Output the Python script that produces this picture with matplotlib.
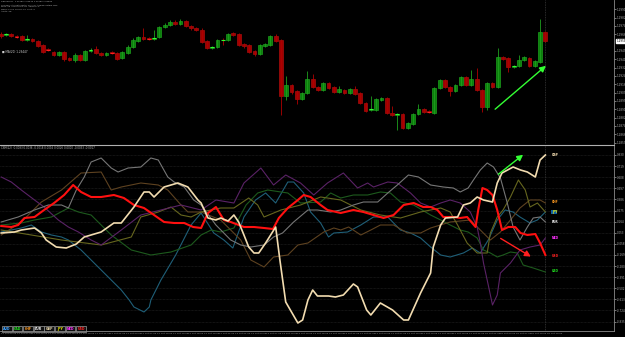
import matplotlib
matplotlib.use('Agg')
import matplotlib.pyplot as plt
from matplotlib.patches import Rectangle
import numpy as np

# ---------------- price candles (H1 bars) ----------------
opens = [1.2966,1.2965,1.2966,1.2964,1.2964,1.2960,1.2961,1.2959,1.2955,1.2951,
         1.2948,1.2945,1.2948,1.2942,1.2940,1.2945,1.2940,1.2949,1.2951,1.2947,
         1.2945,1.2948,1.2947,1.2942,1.2947,1.2953,1.2959,1.2963,1.2962,1.2961,
         1.2963,1.2973,1.2975,1.2978,1.2976,1.2979,1.2974,1.2972,1.2970,1.2959,
         1.2952,1.2953,1.2960,1.2960,1.2967,1.2966,1.2956,1.2955,1.2949,1.2946,
         1.2954,1.2955,1.2964,1.2960,1.2904,1.2915,1.2909,1.2901,1.2907,1.2921,
         1.2913,1.2910,1.2917,1.2913,1.2908,1.2910,1.2907,1.2911,1.2907,1.2897,
         1.2890,1.2890,1.2900,1.2902,1.2887,1.2885,1.2886,1.2872,1.2876,1.2886,
         1.2891,1.2889,1.2887,1.2912,1.2920,1.2913,1.2909,1.2915,1.2923,1.2915,
         1.2921,1.2910,1.2893,1.2917,1.2913,1.2943,1.2942,1.2933,1.2934,1.2940,
         1.2942,1.2934,1.2938,1.2968]
closes = [1.2964,1.2966,1.2964,1.2963,1.2960,1.2961,1.2959,1.2954,1.2948,1.2950,
          1.2945,1.2948,1.2941,1.2940,1.2945,1.2940,1.2949,1.2950,1.2947,1.2945,
          1.2947,1.2947,1.2941,1.2948,1.2953,1.2960,1.2963,1.2961,1.2961,1.2962,
          1.2973,1.2975,1.2978,1.2976,1.2979,1.2974,1.2972,1.2970,1.2958,1.2952,
          1.2953,1.2960,1.2960,1.2966,1.2965,1.2955,1.2954,1.2948,1.2946,1.2955,
          1.2956,1.2964,1.2959,1.2904,1.2915,1.2908,1.2901,1.2907,1.2921,1.2913,
          1.2910,1.2917,1.2912,1.2908,1.2911,1.2907,1.2911,1.2906,1.2897,1.2889,
          1.2891,1.2901,1.2902,1.2887,1.2885,1.2886,1.2872,1.2877,1.2886,1.2891,
          1.2888,1.2888,1.2912,1.2920,1.2913,1.2909,1.2915,1.2923,1.2915,1.2921,
          1.2910,1.2893,1.2917,1.2913,1.2943,1.2941,1.2933,1.2934,1.2940,1.2943,
          1.2934,1.2939,1.2968,1.2959]
highs = [1.2968,1.2967,1.2967,1.2965,1.2965,1.2965,1.2962,1.2960,1.2956,1.2952,
         1.2949,1.2949,1.2949,1.2943,1.2947,1.2946,1.2950,1.2952,1.2954,1.2948,
         1.2948,1.2949,1.2948,1.2949,1.2955,1.2962,1.2964,1.2972,1.2963,1.2970,
         1.2974,1.2977,1.2980,1.2980,1.2981,1.2980,1.2975,1.2973,1.2972,1.2960,
         1.2954,1.2961,1.2962,1.2967,1.2968,1.2967,1.2957,1.2956,1.2950,1.2956,
         1.2957,1.2965,1.2966,1.2961,1.2924,1.2916,1.2910,1.2908,1.2929,1.2926,
         1.2914,1.2918,1.2918,1.2914,1.2914,1.2911,1.2912,1.2914,1.2908,1.2898,
         1.2904,1.2902,1.2903,1.2903,1.2894,1.2887,1.2887,1.2878,1.2887,1.2896,
         1.2892,1.2890,1.2913,1.2921,1.2921,1.2914,1.2916,1.2924,1.2924,1.2930,
         1.2932,1.2911,1.2918,1.2918,1.2952,1.2944,1.2943,1.2935,1.2945,1.2944,
         1.2943,1.2940,1.2981,1.2969]
lows = [1.2962,1.2964,1.2963,1.2962,1.2959,1.2959,1.2958,1.2953,1.2947,1.2949,
        1.2944,1.2944,1.2939,1.2939,1.2938,1.2939,1.2939,1.2948,1.2946,1.2944,
        1.2944,1.2946,1.2940,1.2941,1.2946,1.2952,1.2958,1.2960,1.2960,1.2960,
        1.2962,1.2972,1.2974,1.2975,1.2975,1.2973,1.2970,1.2969,1.2957,1.2951,
        1.2951,1.2952,1.2955,1.2959,1.2964,1.2954,1.2952,1.2947,1.2944,1.2945,
        1.2953,1.2954,1.2958,1.2885,1.2900,1.2906,1.2896,1.2900,1.2906,1.2912,
        1.2909,1.2909,1.2911,1.2907,1.2907,1.2906,1.2906,1.2905,1.2896,1.2888,
        1.2889,1.2889,1.2899,1.2886,1.2884,1.2870,1.2871,1.2871,1.2875,1.2885,
        1.2887,1.2887,1.2886,1.2911,1.2912,1.2904,1.2908,1.2914,1.2914,1.2914,
        1.2909,1.2888,1.2890,1.2912,1.2912,1.2940,1.2928,1.2932,1.2933,1.2939,
        1.2933,1.2933,1.2937,1.2958]

# ---------------- currency strength lines (bar, value) ----------------
gbp_bar = [0.1,2.6,3.9,6.4,7.7,8.6,10.5,12.4,14.3,15.8,19.0,21.4,22.8,25.2,27.1,28.1,29.0,30.9,33.5,35.4,
           37.3,37.9,39.2,40.7,41.6,43.0,44.1,45.0,46.0,46.9,47.9,48.8,50.1,52.0,52.8,53.9,56.2,57.1,58.1,59.0,
           59.9,62.0,63.3,64.8,66.7,67.5,69.2,70.0,71.8,74.1,76.2,77.1,79.4,81.3,81.8,83.2,84.1,86.4,87.5,88.8,
           90.1,91.3,93.0,93.9,94.8,96.9,98.3,99.6,101.1,102.0,103.0]
gbp_val = [5,6,8,10,5,-2,-9,-10,-6,1,6,15,15,31,46,46,41,51,55,51,
           38,35,20,18,20,17,23,16,3,-9,-15,-15,-5,11,-22,-64,-85,-82,-62,-52,
           -58,-58,-59,-57,-46,-49,-72,-77,-65,-72,-82,-82,-55,-35,-9,13,20,21,33,35,
           41,38,36,55,65,71,68,66,61,78,83]

usd_bar = [0.1,2.0,3.3,4.5,6.4,8.2,10.1,12.0,13.7,15.2,17.1,19.0,21.4,23.3,25.2,27.1,29.0,30.9,32.8,34.7,
           36.4,37.9,39.2,40.7,42.2,43.5,46.0,47.9,49.8,51.5,52.6,54.3,56.2,57.3,58.6,60.5,61.8,64.3,66.7,68.6,
           70.5,72.4,74.3,76.2,78.1,79.9,81.3,82.6,83.7,85.6,86.9,88.2,89.8,90.3,91.1,92.0,93.0,93.9,94.8,96.0,
           97.3,98.3,99.6,101.1,102.0,103.0]
usd_val = [12,11,13,20,21,28,35,43,53,46,41,41,43,40,33,30,23,16,15,15,
           11,10,25,31,18,16,11,11,10,9,20,30,38,43,41,33,28,25,28,26,
           23,20,23,33,35,31,31,28,21,21,20,21,11,28,50,48,43,28,8,11,
           11,5,3,4,-5,-17]

eur_bar = [0.1,3.3,6.4,9.0,11.5,12.8,14.3,15.8,17.1,19.0,20.9,22.2,24.1,26.5,28.4,29.8,31.6,32.8,34.7,36.5,
           37.9,40.7,43.5,45.4,47.3,49.8,51.6,53.3,55.4,58.1,59.9,62.4,64.3,66.7,68.6,71.3,73.2,75.0,77.1,79.0,
           81.3,83.7,85.6,86.9,88.4,89.4,90.7,92.0,93.2,94.5,95.8,96.9,98.2,99.6,100.7,102.0,103.0]
eur_val = [16,21,28,33,33,30,48,61,76,80,70,66,70,71,80,78,61,56,51,38,
           33,13,-2,-7,-9,-7,1,5,16,28,28,26,28,33,36,36,45,53,63,61,
           53,51,50,46,50,58,68,75,71,60,35,11,-2,11,20,21,16]

nzd_bar = [0.1,2.0,3.9,6.4,8.2,10.9,12.8,14.7,17.1,19.0,22.8,26.5,30.3,34.1,37.9,40.7,44.1,46.0,49.2,51.6,
           53.9,56.7,59.2,61.8,64.8,67.5,69.4,70.5,73.2,75.0,77.5,79.4,81.3,83.2,85.0,86.9,88.8,90.1,90.7,91.3,
           92.2,93.0,93.9,94.5,96.4,98.2,100.1,102.0,103.0]
nzd_val = [61,56,48,38,31,18,11,6,-2,-7,8,23,28,33,28,38,35,55,70,53,
           63,55,43,55,65,50,55,51,56,55,45,35,31,35,38,35,26,11,-5,-25,
           -47,-67,-57,-35,-25,-12,-9,-7,0]

aud_bar = [0.1,3.9,5.8,7.7,9.6,11.5,12.8,15.2,19.0,22.8,24.3,25.2,27.1,28.1,28.4,30.3,33.1,36.0,37.9,40.3,
           42.2,43.9,46.0,48.2,50.1,52.0,54.3,55.4,57.3,58.6,60.5,62.0,63.0,65.6,68.1,70.5,73.2,75.6,77.5,79.4,
           81.3,83.2,85.0,87.5,89.2,90.7,92.2,93.9,95.4,96.9,98.2,100.1,101.5,103.0]
aud_val = [6,10,13,6,3,1,-2,-12,-32,-52,-62,-69,-74,-69,-62,-42,-17,13,25,5,
           -2,-10,21,38,45,35,56,56,45,26,15,1,5,6,13,21,21,8,5,0,
           -9,-17,-19,-15,-10,-15,-2,18,28,26,21,15,18,26]

cad_bar = [0.1,3.9,6.4,9.6,12.8,14.7,17.1,20.9,24.7,28.4,32.2,36.0,37.9,39.8,41.6,44.1,46.4,48.6,50.5,53.0,
           54.3,56.7,60.5,62.4,64.3,66.7,69.4,71.8,73.7,75.6,78.1,81.3,83.2,85.0,86.9,88.4,90.1,91.3,92.6,93.9,
           95.0,96.4,97.7,98.8,100.7,103.0]
cad_val = [13,15,18,21,30,26,23,3,-12,-17,-14,-7,3,8,6,10,33,45,48,46,
           45,35,36,45,40,43,43,46,45,36,33,23,18,13,8,6,0,-12,-15,-19,
           -17,-14,-15,-27,-30,-34]

jpy_bar = [0.1,5.8,11.5,19.0,24.7,26.5,29.8,32.2,34.1,36.0,37.9,41.6,44.1,46.9,48.6,49.8,53.0,56.7,60.5,64.3,
           68.1,71.8,75.6,79.4,81.3,83.2,85.0,86.4,88.2,90.1,92.0,92.6,93.9,95.0,96.4,97.9,99.2,100.1,101.5,103.0]
jpy_val = [8,3,-2,-7,1,21,26,31,23,21,26,30,30,40,33,21,28,33,41,38,
           28,23,20,26,28,30,26,13,-5,-15,-15,5,21,28,41,58,48,31,35,26]

chf_bar = [0.1,3.9,7.7,11.5,15.2,19.0,20.9,22.8,26.5,29.8,31.6,34.1,35.4,37.9,41.6,45.4,47.3,49.8,51.6,54.3,
           56.2,58.1,61.1,63.0,64.3,65.8,68.1,70.0,71.8,74.3,76.9,79.4,81.3,85.0,88.8,90.7,92.6,94.5,96.4,98.2,
           100.1,102.0,103.0]
chf_val = [3,16,36,48,65,66,48,51,55,53,48,33,26,26,18,-2,-22,-29,-19,-17,
           -7,-5,6,10,8,11,3,8,13,13,5,5,10,16,18,8,-2,6,18,30,
           38,38,35]

series = [
    ('AUD', aud_bar, aud_val, '#1f5f78', 0.8),
    ('CAD', cad_bar, cad_val, '#1d5a1d', 0.8),
    ('CHF', chf_bar, chf_val, '#5e4220', 0.8),
    ('JPY', jpy_bar, jpy_val, '#66661e', 0.8),
    ('NZD', nzd_bar, nzd_val, '#5a2266', 0.8),
    ('EUR', eur_bar, eur_val, '#767676', 0.8),
    ('USD', usd_bar, usd_val, '#ff1010', 1.5),
    ('GBP', gbp_bar, gbp_val, '#f2dcb0', 1.2),
]
legend_names = ['AUD', 'CAD', 'CHF', 'EUR', 'GBP', 'JPY', 'NZD', 'USD']
legend_colors = ['#3aa0ff', '#20e020', '#ff9a20', '#e8e8e8', '#d8c8a0', '#f0f000', '#ff30ff', '#ff2020']
end_labels = [('GBP', 83, '#f2dcb0'), ('CHF', 36, '#ff9a20'),
              ('EUR', 16, '#e8e8e8'), ('NZD', 0, '#ff30ff'), ('USD', -18, '#ff2020'),
              ('CAD', -33, '#20e020')]

# arrows (start bar, start value, end bar, end value)
price_arrow = (93.1, 1.2889, 103.5, 1.2936)
up_arrow = (93.7, 62, 99.2, 85)
down_arrow = (94.1, 1, 100.7, -20)

time_labels = ['%d Oct %02d:00' % (d, h) for d, h in
               [(21, 4), (21, 7), (21, 10), (21, 13), (21, 16), (21, 19), (21, 22), (22, 1), (22, 4),
                (22, 7), (22, 10), (22, 13), (22, 16), (22, 19), (22, 22), (23, 1), (23, 4), (23, 7),
                (23, 10), (23, 13), (23, 16), (23, 19), (23, 22), (24, 1), (24, 4), (24, 7), (24, 10),
                (24, 13), (24, 16), (24, 19), (24, 22), (25, 1), (25, 4), (25, 7), (25, 10), (25, 13)]]

# ---------------- figure ----------------
W, H = 625, 337
fig = plt.figure(figsize=(6.25, 3.37), dpi=100, facecolor='black')
axw = 614 / W
ax1 = fig.add_axes([0, 1 - 144 / H, axw, 144 / H], facecolor='black')
ax2 = fig.add_axes([0, 1 - 331 / H, axw, (331 - 145) / H], facecolor='black')
xlim = (-0.13, 115.98)

for ax in (ax1, ax2):
    ax.set_xlim(*xlim)
    for s in ('top', 'left', 'bottom'):
        ax.spines[s].set_visible(False)
    ax.spines['right'].set_color('#8a8a8a')
    ax.spines['right'].set_linewidth(0.6)
    ax.tick_params(axis='y', left=False, right=True, labelleft=False, labelright=True,
                   length=1.5, width=0.5, colors='#a8a8a8', labelsize=2.0, pad=0.6)
    ax.set_xticks([])
    ax.axvline(103, color='#3a3a3a', lw=0.6, ls=(0, (1, 1)))

# candles
ax1.set_ylim(1.2856, 1.3000)
n = len(opens)
idx = np.arange(n)
o = np.array(opens); c = np.array(closes); h = np.array(highs); l = np.array(lows)
up = c > o
dn = c < o
eq = c == o
ax1.vlines(idx[up], l[up], h[up], color='#1fa01f', lw=0.6)
ax1.vlines(idx[~up], l[~up], h[~up], color='#b00000', lw=0.6)
ax1.bar(idx[up], (c - o)[up], bottom=o[up], width=0.72, color='#0c800c', edgecolor='#22b522', linewidth=0.4)
ax1.bar(idx[dn], (o - c)[dn], bottom=c[dn], width=0.72, color='#a00000', edgecolor='#c01010', linewidth=0.4)
ax1.hlines(o[eq], idx[eq] - 0.36, idx[eq] + 0.36, color='#30ff30', lw=0.8)
small = np.abs(c - o) < 0.00015
ax1.hlines(c[small & ~eq], idx[small & ~eq] - 0.36, idx[small & ~eq] + 0.36,
           color=np.where(up[small & ~eq], '#30ff30', '#ff2020'), lw=0.8)

pt = [1.3000 - (1 + 8.33 * k) / 10000 for k in range(1, 18)]
pt = [p for p in pt if abs(p - closes[-1]) > 0.0005]
ax1.set_yticks(pt)
ax1.set_yticklabels(['%.4f' % p for p in pt])
ax1.annotate('', xy=price_arrow[2:], xytext=price_arrow[:2],
             arrowprops=dict(arrowstyle='-|>,head_length=0.35,head_width=0.18', color='#33ff33', lw=1.0))
# current price tag
ax1.text(1.004, (closes[-1] - 1.2856) / 0.0144, '%.4f' % closes[-1], transform=ax1.transAxes,
         fontsize=2.0, color='black', va='center', ha='left',
         bbox=dict(boxstyle='square,pad=0.15', fc='white', ec='white'))

# strength lines
ax2.set_ylim(-93, 93)
st = [83 - 11.1 * k for k in range(16)]
ax2.set_yticks(st)
ax2.set_yticklabels(['%.3f' % (v / 100) for v in st])
for v in st:
    ax2.axhline(v, color='#262626', lw=0.5, ls=(0, (1, 1)), zorder=0)
for name, bx, vy, col, lw in series:
    ax2.plot(bx, vy, color=col, lw=lw, solid_joinstyle='round')
for name, v, col in end_labels:
    ax2.text(104.2, v, name, fontsize=2.2, color=col, va='center', ha='left', fontweight='bold')
ax2.text(104.2, 26, 'JPY', fontsize=2.2, color='#f0f000', va='center', ha='left', fontweight='bold',
         bbox=dict(boxstyle='square,pad=0.1', fc='#1060a0', ec='none'))
ax2.annotate('', xy=up_arrow[2:], xytext=up_arrow[:2],
             arrowprops=dict(arrowstyle='-|>,head_length=0.35,head_width=0.18', color='#33ff33', lw=1.0))
ax2.annotate('', xy=down_arrow[2:], xytext=down_arrow[:2],
             arrowprops=dict(arrowstyle='-|>,head_length=0.35,head_width=0.18', color='#ff2020', lw=1.0))

# separators
fig.add_artist(plt.Line2D([0, axw], [1 - 144.5 / H] * 2, color='#b0b0b0', lw=0.8))
fig.add_artist(plt.Line2D([0, axw], [1 - 331 / H] * 2, color='#8a8a8a', lw=0.6))

# top-left info text
info = ['GBPUSD,H1  1.29680 1.29810 1.29580 1.29590',
        'Currency Strength Meter v2.1 (c) tradingsystem.com',
        'Pairs: 28  Timeframe: H1  Smooth: 5',
        'Mode: Close  Period: 12  Shift: 0',
        'Alerts: off']
for k, s in enumerate(info):
    fig.text(0.002, 1 - (1.5 + 2.3 * k) / H, s, fontsize=1.5, color='#b8b8b8', va='top', ha='left')
fig.text(0.003, 1 - 52 / H, '\u25a0 MA(20) 1.29447', fontsize=2.0, color='#d0d0d0', va='center', ha='left')
fig.text(0.002, 1 - 148 / H,
         'CSM(12)  0.0083 0.0036 -0.0018 0.0016 0.0026 0.0000 -0.0033 -0.0017',
         fontsize=1.9, color='#b8b8b8', va='center', ha='left')

# legend buttons
bw = 10.6
for k, (nm, col) in enumerate(zip(legend_names, legend_colors)):
    x0 = 2 + k * bw
    fig.add_artist(Rectangle((x0 / W, 1 - 332 / H), (bw - 0.8) / W, 6 / H, transform=fig.transFigure,
                             fc='#101010', ec='#9a9a9a', lw=0.5))
    fig.text((x0 + (bw - 0.8) / 2) / W, 1 - 329 / H, nm, fontsize=2.3, color=col,
             va='center', ha='center', fontweight='bold')

# time axis labels
for k, s in enumerate(time_labels):
    fig.text((1 + 15.6 * k) / W, 1 - 333.8 / H, s, fontsize=1.7, color='#a0a0a0', va='center', ha='left')

fig.savefig('out.png', dpi=100, facecolor='black')
